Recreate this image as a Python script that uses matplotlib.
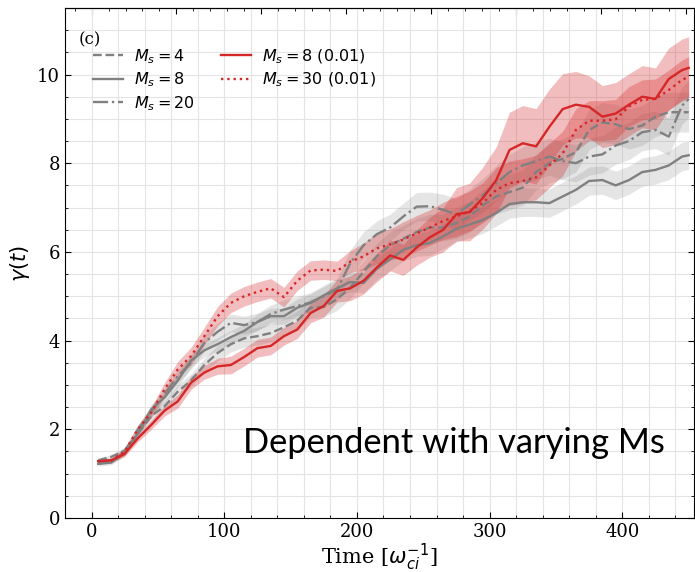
import matplotlib
matplotlib.use('Agg')
import matplotlib.pyplot as plt
import numpy as np
from matplotlib.ticker import MultipleLocator

plt.rcParams['font.family'] = ['DejaVu Serif']
plt.rcParams['mathtext.fontset'] = 'dejavusans'

# time grid
time = [5, 15, 25, 35, 45, 55, 65, 75, 85, 95, 105, 115, 125, 135, 145, 155,
        165, 175, 185, 195, 205, 215, 225, 235, 245, 255, 265, 275, 285, 295,
        305, 315, 325, 335, 345, 355, 365, 375, 385, 395, 405, 415, 425, 435,
        445, 450]

# gray runs (dependent)
ms4 = [1.30, 1.38, 1.52, 1.90, 2.30, 2.52, 2.85, 3.10, 3.45, 3.72, 3.92, 4.05,
       4.10, 4.17, 4.30, 4.45, 4.74, 4.76, 4.93, 5.20, 5.55, 5.90, 6.15, 6.30,
       6.45, 6.55, 6.55, 6.65, 6.80, 7.05, 7.25, 7.35, 7.45, 7.80, 8.00, 8.10,
       8.25, 8.75, 8.92, 8.88, 8.77, 8.85, 9.05, 9.15, 9.15, 9.15]
ms4_std = [0.05, 0.05, 0.08, 0.1, 0.12, 0.12, 0.15, 0.15, 0.15, 0.18, 0.18, 0.2,
           0.2, 0.2, 0.2, 0.22, 0.22, 0.22, 0.25, 0.25, 0.25, 0.3, 0.3, 0.3,
           0.3, 0.3, 0.3, 0.35, 0.35, 0.35, 0.4, 0.4, 0.4, 0.4, 0.45, 0.45,
           0.45, 0.45, 0.45, 0.45, 0.45, 0.45, 0.45, 0.45, 0.45, 0.45]

ms8 = [1.22, 1.25, 1.48, 1.90, 2.45, 2.72, 3.10, 3.55, 3.78, 3.92, 4.08, 4.22,
       4.42, 4.55, 4.55, 4.74, 4.85, 5.02, 5.18, 5.32, 5.30, 5.62, 5.83, 6.05,
       6.15, 6.20, 6.35, 6.52, 6.62, 6.72, 6.88, 7.08, 7.12, 7.12, 7.10, 7.25,
       7.40, 7.60, 7.62, 7.50, 7.62, 7.80, 7.85, 7.95, 8.15, 8.18]
ms8_std = [0.05, 0.05, 0.08, 0.1, 0.12, 0.12, 0.15, 0.15, 0.15, 0.15, 0.15, 0.15,
           0.18, 0.18, 0.18, 0.2, 0.2, 0.2, 0.2, 0.22, 0.22, 0.25, 0.25, 0.25,
           0.25, 0.28, 0.28, 0.3, 0.3, 0.3, 0.3, 0.32, 0.32, 0.32, 0.32, 0.32,
           0.32, 0.32, 0.32, 0.32, 0.32, 0.32, 0.32, 0.32, 0.32, 0.32]

ms20 = [1.25, 1.30, 1.50, 2.00, 2.40, 2.80, 3.20, 3.50, 3.95, 4.20, 4.40, 4.35,
        4.42, 4.60, 4.70, 4.78, 4.86, 5.00, 5.15, 5.75, 6.15, 6.40, 6.55, 6.80,
        7.02, 7.03, 6.95, 6.85, 7.07, 7.28, 7.55, 7.80, 7.95, 8.05, 8.15, 8.05,
        8.00, 8.15, 8.20, 8.40, 8.50, 8.70, 8.75, 8.60, 9.30, 9.45]
ms20_std = [0.05, 0.05, 0.08, 0.1, 0.12, 0.12, 0.15, 0.15, 0.18, 0.2, 0.2, 0.2,
            0.2, 0.2, 0.22, 0.22, 0.22, 0.25, 0.25, 0.3, 0.3, 0.3, 0.3, 0.3,
            0.32, 0.32, 0.35, 0.35, 0.35, 0.38, 0.4, 0.4, 0.42, 0.42, 0.42, 0.42,
            0.42, 0.42, 0.42, 0.42, 0.42, 0.42, 0.42, 0.42, 0.42, 0.42]

# red runs (0.01)
ms8_r = [1.28, 1.30, 1.45, 1.80, 2.10, 2.42, 2.63, 3.05, 3.28, 3.42, 3.45, 3.63,
         3.83, 3.88, 4.10, 4.25, 4.62, 4.78, 5.12, 5.18, 5.35, 5.65, 5.92, 5.82,
         6.10, 6.33, 6.50, 6.85, 6.90, 7.22, 7.62, 8.30, 8.45, 8.38, 8.82, 9.22,
         9.32, 9.27, 9.05, 9.12, 9.32, 9.50, 9.45, 9.90, 10.10, 10.15]
ms8_r_std = [0.05, 0.05, 0.06, 0.08, 0.1, 0.12, 0.15, 0.15, 0.15, 0.18, 0.2, 0.2,
             0.2, 0.2, 0.2, 0.2, 0.22, 0.25, 0.25, 0.28, 0.3, 0.32, 0.35, 0.35,
             0.4, 0.45, 0.5, 0.6, 0.65, 0.7, 0.75, 0.85, 0.85, 0.85, 0.85, 0.8,
             0.75, 0.7, 0.7, 0.7, 0.7, 0.7, 0.7, 0.7, 0.7, 0.7]

ms30_r = [1.28, 1.30, 1.50, 2.00, 2.38, 2.90, 3.35, 3.65, 4.10, 4.55, 4.85, 5.00,
          5.10, 5.18, 4.98, 5.35, 5.58, 5.60, 5.57, 5.78, 5.90, 6.08, 6.17, 6.28,
          6.42, 6.55, 6.70, 6.80, 6.92, 7.11, 7.40, 7.55, 7.60, 7.68, 7.95, 8.22,
          8.75, 8.96, 8.96, 8.99, 9.28, 9.43, 9.45, 9.65, 9.88, 9.95]
ms30_r_std = [0.05, 0.05, 0.08, 0.1, 0.12, 0.15, 0.18, 0.2, 0.2, 0.22, 0.22, 0.22,
              0.22, 0.22, 0.22, 0.22, 0.22, 0.22, 0.22, 0.25, 0.3, 0.35, 0.35, 0.4,
              0.4, 0.4, 0.42, 0.45, 0.45, 0.45, 0.5, 0.5, 0.5, 0.5, 0.5, 0.5,
              0.48, 0.45, 0.45, 0.45, 0.45, 0.45, 0.45, 0.45, 0.45, 0.45]

gray_runs = [(ms4, ms4_std, '--', r'$M_s = 4$'),
             (ms8, ms8_std, '-', r'$M_s = 8$'),
             (ms20, ms20_std, '-.', r'$M_s = 20$')]
red_runs = [(ms8_r, ms8_r_std, '-', r'$M_s = 8$ (0.01)'),
            (ms30_r, ms30_r_std, ':', r'$M_s = 30$ (0.01)')]

fig = plt.figure(figsize=(6.95, 5.72), dpi=100)
ax = fig.add_axes([65 / 695, 1 - 518 / 572, 629 / 695, 510 / 572])

t = np.array(time)
for y, s, ls, lab in gray_runs:
    y = np.array(y); s = np.array(s)
    ax.fill_between(t, y - s, y + s, color='gray', alpha=0.2, lw=0)
    ax.plot(t, y, ls=ls, color='gray', lw=1.7, label=lab)
for y, s, ls, lab in red_runs:
    y = np.array(y); s = np.array(s)
    ax.fill_between(t, y - s, y + s, color='#d62728', alpha=0.3, lw=0)
    ax.plot(t, y, ls=ls, color='#d62728', lw=1.7, label=lab)

ax.set_xlim(-20, 454)
ax.set_ylim(0, 11.5)
ax.xaxis.set_major_locator(MultipleLocator(100))
ax.xaxis.set_minor_locator(MultipleLocator(20))
ax.yaxis.set_major_locator(MultipleLocator(2))
ax.yaxis.set_minor_locator(MultipleLocator(0.5))
ax.grid(which='both', color='#e4e4e4', lw=0.8)
ax.set_axisbelow(True)
ax.tick_params(which='both', direction='in', top=False, right=True, labelsize=13)
ax.tick_params(which='major', length=4)
ax.tick_params(which='minor', length=2.5)

# second time scale on top (labels run off the top edge, as in the source)
sec = ax.secondary_xaxis('top', functions=(lambda x: x / 1.28, lambda x: x * 1.28))
sec.xaxis.set_major_locator(MultipleLocator(50))
sec.xaxis.set_minor_locator(MultipleLocator(10))
sec.tick_params(which='both', direction='in', labelsize=13)
sec.tick_params(which='major', length=4)
sec.tick_params(which='minor', length=2.5)

ax.set_xlabel(r'Time [$\omega_{ci}^{-1}$]', fontsize=15, labelpad=1)
ax.set_ylabel(r'$\gamma(t)$', fontsize=15)

ax.text(0.021, 0.955, '(c)', transform=ax.transAxes, fontsize=12, va='top')

ax.legend(loc='upper left', bbox_to_anchor=(0.034, 0.936), ncol=2, frameon=False,
          prop={'family': 'DejaVu Sans', 'size': 11.5}, handlelength=1.9,
          handletextpad=0.7, labelspacing=0.3, columnspacing=1.6, borderaxespad=0)

fig.text(243 / 695, 1 - 453 / 572, 'Dependent with varying Ms', fontsize=24.8,
         family='Lato', ha='left', va='baseline')

fig.savefig('out.png', dpi=100)
